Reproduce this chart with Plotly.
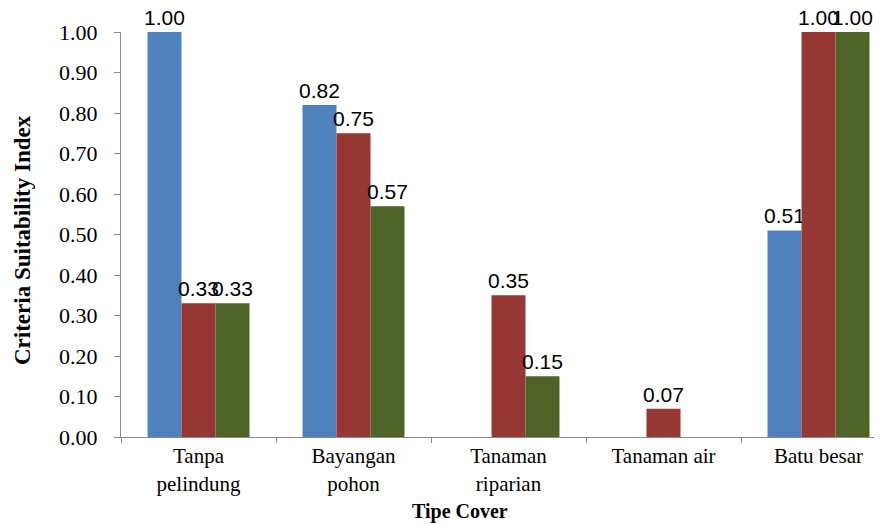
import plotly.graph_objects as go

categories = ["Tanpa<br>pelindung", "Bayangan<br>pohon", "Tanaman<br>riparian", "Tanaman air", "Batu besar"]
series_blue = [1.00, 0.82, 0.0, 0.0, 0.51]
series_red = [0.33, 0.75, 0.35, 0.07, 1.00]
series_green = [0.33, 0.57, 0.15, 0.0, 1.00]
y_ticks = [0.0, 0.1, 0.2, 0.3, 0.4, 0.5, 0.6, 0.7, 0.8, 0.9, 1.0]
colors = ["#4F81BD", "#953735", "#4F6228"]

# page has an 8px body margin: figure origin is at (8, 8) in the window
OFF = 8
W, H = 882 - OFF, 524 - OFF
ML, MT = 121 - OFF, 32 - OFF
MB = 524 - 437
MR = 0
pw = W - ML - MR
ph = H - MT - MB

fig = go.Figure()
for vals, col in zip([series_blue, series_red, series_green], colors):
    fig.add_trace(go.Bar(
        x=categories, y=vals,
        marker=dict(color=col, line=dict(width=0)),
        text=[f"{v:.2f}" if v > 0 else "" for v in vals],
        textposition="outside",
        constraintext="none",
        cliponaxis=False,
        textfont=dict(family="Liberation Sans, Arial, sans-serif", size=21, color="black"),
    ))

fig.update_layout(
    width=W, height=H,
    margin=dict(l=ML, r=MR, t=MT, b=MB),
    paper_bgcolor="white", plot_bgcolor="white",
    barmode="group", bargap=0.342, bargroupgap=0,
    showlegend=False,
    font=dict(family="Liberation Serif, Times New Roman, serif", size=21, color="black"),
    xaxis=dict(
        range=[-0.5, 4.5 - (896 - 882) / 155], showline=True, linecolor="#898989", linewidth=1,
        ticks="outside", tickson="boundaries", ticklen=5, tickcolor="#898989",
        showgrid=False, tickfont=dict(size=21),
    ),
    yaxis=dict(
        range=[0, 1], tickvals=y_ticks, ticktext=[f"{v:.2f}" for v in y_ticks],
        showline=True, linecolor="#898989", linewidth=1,
        ticks="outside", ticklen=6, tickcolor="#898989",
        showgrid=False, zeroline=False, ticklabelstandoff=12,
        tickfont=dict(size=22),
    ),
    annotations=[
        dict(text="<b>Tipe Cover</b>", xref="paper", yref="paper",
             x=(460 - 121) / pw, y=-(511 - 437) / ph,
             showarrow=False, xanchor="center", yanchor="middle",
             font=dict(size=20)),
        dict(text="<b>Criteria Suitability Index</b>", xref="paper", yref="paper",
             x=(23 - 121) / pw, y=(437 - 240) / ph,
             showarrow=False, xanchor="center", yanchor="middle", textangle=-90,
             font=dict(size=23)),
    ],
)

fig.write_html("out.html")
